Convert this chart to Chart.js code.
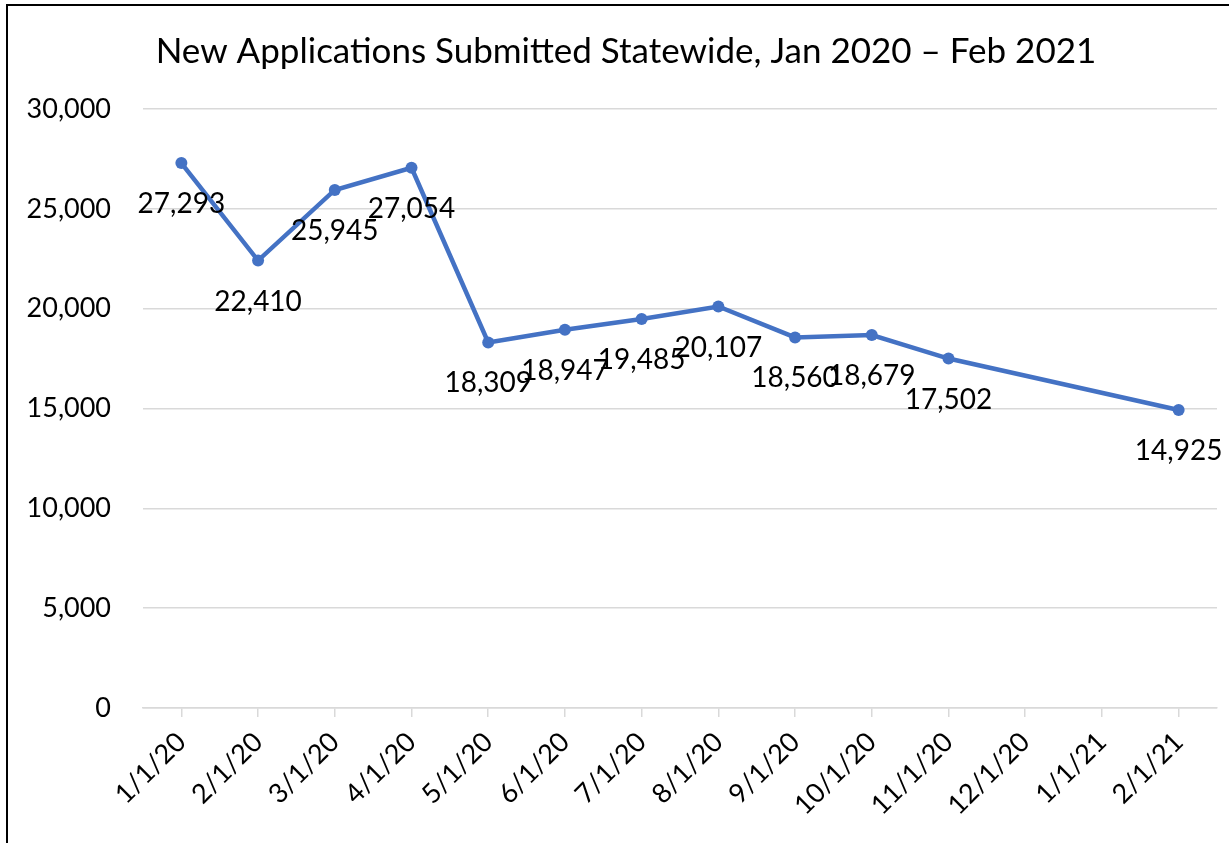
<!DOCTYPE html>
<html>
<head>
<meta charset="utf-8">
<script src="https://cdn.jsdelivr.net/npm/chart.js@4/dist/chart.umd.min.js"></script>
<style>
    body { margin: 0; background: #fff; overflow: hidden; }
    #frame {
        position: absolute; left: 6px; top: 4px; width: 1400px; height: 900px;
        border-left: 2px solid #000; border-top: 2px solid #000; pointer-events: none;
    }
    canvas { position: absolute; left: 0; top: 0; }
</style>
</head>
<body>
<div id="frame"></div>
<canvas id="appsChart" width="1229" height="843"></canvas>
<script>
const chartTitle = "New Applications Submitted Statewide, Jan 2020 \u2013 Feb 2021";
const months = ["1/1/20", "2/1/20", "3/1/20", "4/1/20", "5/1/20", "6/1/20", "7/1/20",
    "8/1/20", "9/1/20", "10/1/20", "11/1/20", "12/1/20", "1/1/21", "2/1/21"];
const applications = [27293, 22410, 25945, 27054, 18309, 18947, 19485,
    20107, 18560, 18679, 17502, null, null, 14925];
const yTicks = [0, 5000, 10000, 15000, 20000, 25000, 30000];

const fmt = v => v.toLocaleString("en-US");

// value labels under each point + the title (centred a bit right of the canvas middle, like the original)
const extras = {
    id: "extras",
    afterDatasetsDraw(chart) {
        const ctx = chart.ctx;
        const meta = chart.getDatasetMeta(0);
        ctx.save();
        ctx.font = "28px Lato";
        ctx.fillStyle = "#000";
        ctx.textAlign = "center";
        ctx.textBaseline = "middle";
        meta.data.forEach((pt, i) => {
            const v = applications[i];
            if (v === null) return;
            ctx.fillText(fmt(v), pt.x, pt.y + 41);
        });
        ctx.font = "35px Lato";
        ctx.fillText(chartTitle, 626, 52);
        ctx.restore();
    }
};

new Chart(document.getElementById("appsChart"), {
    type: "line",
    data: {
        labels: months,
        datasets: [{
            label: "New Applications",
            data: applications,
            borderColor: "#4472C4",
            backgroundColor: "#4472C4",
            borderWidth: 4.5,
            pointRadius: 6,
            pointBorderWidth: 0,
            pointBackgroundColor: "#4472C4",
            tension: 0,
            spanGaps: true
        }]
    },
    options: {
        responsive: false,
        animation: false,
        layout: { padding: { left: 10, right: 12, top: 109, bottom: 0 } },
        plugins: {
            legend: { display: false },
            tooltip: { enabled: false },
            title: { display: false }
        },
        scales: {
            x: {
                offset: true,
                afterFit: s => { s.height = 135; },
                grid: {
                    display: true,
                    drawOnChartArea: false,
                    drawTicks: true,
                    tickLength: 9,
                    color: "#d9d9d9",
                    lineWidth: 1.5
                },
                border: { color: "#d9d9d9", width: 1.5 },
                ticks: {
                    minRotation: 45,
                    maxRotation: 45,
                    autoSkip: false,
                    padding: 9,
                    color: "#000",
                    font: { family: "Lato", size: 27 }
                }
            },
            y: {
                min: 0,
                max: 30000,
                afterFit: s => { s.width = 133; },
                afterBuildTicks: s => { s.ticks = yTicks.map(v => ({ value: v })); },
                grid: { color: "#d9d9d9", lineWidth: 1.5, drawTicks: false },
                border: { display: false },
                ticks: {
                    padding: 32,
                    color: "#000",
                    font: { family: "Lato", size: 27 },
                    callback: v => fmt(v)
                }
            }
        }
    },
    plugins: [extras]
});
</script>
</body>
</html>
